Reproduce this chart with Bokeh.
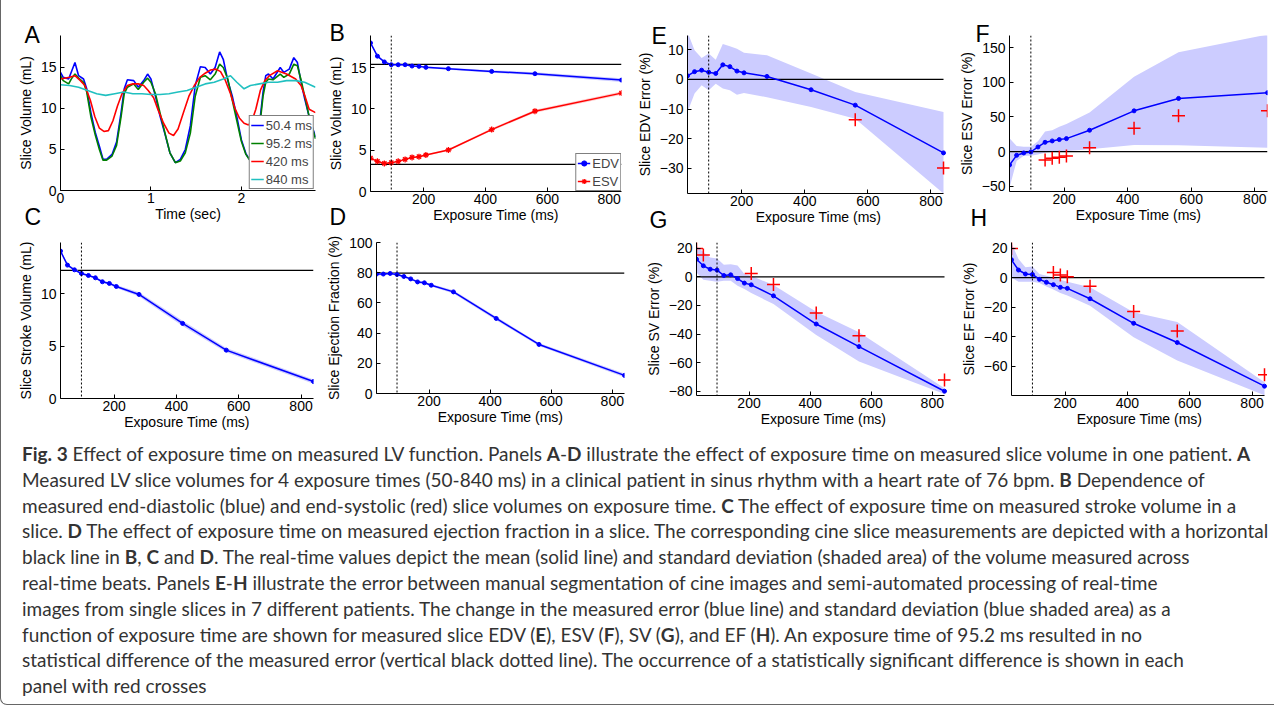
from bokeh.plotting import figure
from bokeh.models import (Span, Legend, LegendItem, FixedTicker, Range1d, Div, Title,
                          CustomJSTickFormatter)
from bokeh.layouts import column, row
from bokeh.embed import file_html
from bokeh.resources import INLINE

FONT = "Liberation Sans"
BLUE = "#0000ff"
RED = "#ff0000"
GREEN = "#008000"
CYAN = "#20c0c0"
BAND = "#ccccff"
RBAND = "#ffcccc"

# ------------------------------------------------------------------ data
exposure_ms = [28, 50.4, 72.8, 95.2, 117.6, 140, 162.4, 184.8, 207.2, 280, 420, 560, 840]
no_diff_exposure = 95.2

# Panel A : slice volume vs time for 4 exposure times
a_t_504 = [0, 0.03, 0.09, 0.125, 0.16, 0.2, 0.255, 0.29, 0.336, 0.384, 0.43, 0.47, 0.51, 0.57,
           0.62, 0.67, 0.705, 0.74, 0.81, 0.86, 0.92, 0.963, 1.0, 1.05, 1.1, 1.16, 1.21, 1.27,
           1.325, 1.38, 1.436, 1.49, 1.547, 1.6, 1.657, 1.71, 1.76, 1.8, 1.85, 1.9, 1.95, 2.0,
           2.05, 2.1, 2.15, 2.2, 2.24, 2.27, 2.3, 2.35, 2.43, 2.47, 2.53, 2.58, 2.62, 2.66, 2.7,
           2.75, 2.82]
a_v_504 = [14.4, 13.8, 13.6, 14.6, 15.6, 14.0, 13.6, 12.4, 9.5, 7.1, 5.4, 3.8, 3.8, 4.4,
           5.9, 9.5, 12.4, 13.5, 13.4, 12.6, 13.4, 14.2, 13.6, 11.5, 9.1, 6.7, 4.6, 3.4,
           3.8, 5.0, 7.9, 12.8, 15.1, 15.0, 14.2, 15.0, 16.9, 16.0, 13.4, 11.5, 9.0, 6.2,
           4.5, 3.6, 4.2, 8.0, 12.0, 14.0, 14.2, 13.6, 15.0, 14.4, 14.8, 16.2, 15.6, 13.2, 11.2,
           9.0, 6.5]
a_t_952 = a_t_504
a_v_952 = [14.0, 13.4, 13.0, 13.7, 14.2, 13.7, 13.2, 12.0, 9.0, 6.8, 5.0, 3.7, 3.7, 4.2,
           5.5, 9.0, 11.8, 12.6, 13.0, 12.3, 13.2, 13.7, 13.2, 11.8, 9.5, 6.8, 4.6, 3.4,
           3.6, 4.6, 7.0, 11.5, 13.8, 14.0, 13.5, 14.2, 15.4, 15.0, 13.6, 11.0, 8.5, 6.0,
           4.4, 3.6, 4.0, 7.5, 11.5, 13.2, 13.6, 13.5, 14.2, 13.8, 14.2, 15.4, 15.2, 13.5, 11.5,
           9.0, 6.3]
a_t_420 = [0, 0.1, 0.16, 0.22, 0.27, 0.33, 0.38, 0.43, 0.48, 0.53, 0.58, 0.63, 0.68, 0.74,
           0.8, 0.86, 0.92, 0.97, 1.03, 1.08, 1.14, 1.2, 1.25, 1.3, 1.36, 1.42, 1.48, 1.54,
           1.6, 1.66, 1.72, 1.77, 1.82, 1.88, 1.93, 1.98, 2.03, 2.08, 2.12, 2.16, 2.21, 2.26,
           2.31, 2.4, 2.5, 2.6, 2.66, 2.7, 2.75, 2.82]
a_v_420 = [13.6, 13.8, 14.0, 13.4, 12.8, 11.0, 9.0, 7.6, 7.2, 7.3, 8.5, 10.3, 11.8, 12.8,
           13.0, 13.0, 12.8, 12.2, 11.3, 9.8, 8.2, 7.0, 6.7, 7.5, 9.5, 11.5, 12.8, 13.8,
           14.3, 14.7, 14.8, 14.5, 13.5, 11.8, 10.0, 8.8, 8.2, 8.0, 8.6, 9.9, 12.2, 13.4,
           14.0, 14.6, 14.2, 13.6, 12.8, 11.6, 9.9, 9.5]
a_t_840 = [0, 0.1, 0.2, 0.3, 0.4, 0.5, 0.6, 0.7, 0.8, 0.9, 1.0, 1.1, 1.2, 1.3, 1.4, 1.5, 1.6,
           1.7, 1.8, 1.88, 1.95, 2.03, 2.1, 2.2, 2.3, 2.4, 2.5, 2.6, 2.7, 2.82]
a_v_840 = [12.9, 12.8, 12.6, 12.2, 11.8, 11.6, 11.8, 12.0, 11.8, 11.8, 11.7, 11.7, 11.8, 12.0,
           12.2, 12.6, 13.0, 13.2, 13.6, 14.0, 13.2, 12.4, 12.8, 13.0, 13.2, 13.2, 13.4, 13.4,
           13.2, 12.6]
a_labels = ["50.4 ms", "95.2 ms", "420 ms", "840 ms"]

# Panel B : EDV / ESV vs exposure time (one patient)
b_edv = [18.0, 16.4, 15.7, 15.36, 15.36, 15.36, 15.2, 15.16, 15.04, 14.88, 14.55, 14.27, 13.5]
b_edv_sd = [0.12, 0.1, 0.08, 0.08, 0.08, 0.08, 0.08, 0.1, 0.1, 0.12, 0.15, 0.18, 0.22]
b_esv = [4.05, 3.65, 3.40, 3.49, 3.65, 3.89, 4.13, 4.22, 4.42, 5.03, 7.50, 9.73, 11.92]
b_esv_sd = [0.1, 0.08, 0.08, 0.08, 0.08, 0.08, 0.08, 0.1, 0.1, 0.12, 0.15, 0.18, 0.2]
b_cine_edv = 15.4
b_cine_esv = 3.28

# Panel C : stroke volume
c_sv = [14.08, 12.74, 12.29, 11.94, 11.75, 11.53, 11.15, 10.99, 10.70, 9.94, 7.17, 4.62, 1.62]
c_sv_sd = [0.15, 0.12, 0.1, 0.1, 0.1, 0.1, 0.12, 0.12, 0.15, 0.2, 0.25, 0.2, 0.2]
c_cine = 12.23

# Panel D : ejection fraction
d_ef = [79.1, 79.1, 79.5, 78.8, 77.5, 75.9, 73.9, 73.3, 71.7, 67.3, 49.7, 32.5, 12.0]
d_ef_sd = [1.0, 0.8, 0.7, 0.7, 0.7, 0.7, 0.8, 0.8, 0.8, 1.0, 1.2, 1.0, 1.2]
d_cine = 79.7

# Panels E-H : errors (mean, shaded band, significant points)
e_mean = [1.2, 2.6, 3.1, 2.4, 2.0, 4.9, 4.3, 2.8, 2.2, 1.0, -3.5, -8.7, -24.8]
e_hi = [16.0, 9.8, 7.2, 8.7, 6.6, 11.9, 11.2, 10.3, 9.0, 8.1, 2.0, -4.3, -11.0]
e_lo = [-11.0, -4.8, -2.0, -3.7, -1.5, -3.1, -3.7, -5.2, -4.6, -6.0, -9.3, -13.3, -38.5]
e_sig_t = [560, 840]
e_sig_v = [-13.6, -29.9]

f_mean = [-19.3, -5.3, -1.9, -0.5, 6.8, 13.5, 15.5, 17.4, 18.8, 30.9, 58.9, 76.8, 85.0]
f_hi = [19.3, 8.0, 7.0, 7.0, 15.0, 29.0, 31.0, 36.0, 40.0, 56.5, 108.0, 143.5, 169.0]
f_lo = [-52.0, -13.5, -6.0, -6.0, -4.0, -1.5, 0.0, 1.0, 1.0, 3.4, 9.7, 9.2, 5.8]
f_sig_t = [140, 162.4, 184.8, 207.2, 280, 420, 560, 840]
f_sig_v = [-12.0, -9.7, -8.2, -6.3, 5.8, 33.8, 51.7, 58.9]

g_mean = [12.3, 7.7, 5.3, 4.7, 0.9, 1.4, -1.2, -4.4, -5.6, -13.3, -33.0, -48.8, -80.0]
g_hi = [21.6, 17.4, 13.5, 12.8, 8.5, 8.8, 8.0, 1.9, 0.7, -5.8, -24.4, -38.8, -77.9]
g_lo = [3.0, -2.1, -2.8, -3.5, -2.8, -2.8, -6.3, -8.6, -11.4, -19.0, -40.7, -59.3, -82.0]
g_sig_t = [28, 50.4, 207.2, 280, 420, 560, 840]
g_sig_v = [19.8, 15.3, 2.3, -5.3, -25.3, -41.2, -72.1]

h_mean = [12.1, 5.2, 2.5, 2.2, -1.1, -3.1, -4.7, -6.5, -7.2, -14.2, -30.8, -43.8, -73.3]
h_hi = [23.4, 12.6, 7.0, 7.6, 2.5, 1.3, 0.2, -1.3, -2.7, -6.5, -23.4, -30.0, -70.6]
h_lo = [0.2, -2.7, -2.7, -2.7, -3.5, -6.0, -8.0, -10.3, -12.1, -18.9, -40.2, -56.0, -79.5]
h_sig_t = [28, 162.4, 184.8, 207.2, 280, 420, 560, 840]
h_sig_v = [19.8, 3.6, 1.8, 0.7, -5.8, -22.9, -36.0, -65.6]

exp_ticks = [200, 400, 600, 800]

caption_lines = [
    "<b>Fig. 3</b> Effect of exposure time on measured LV function. Panels <b>A</b>-<b>D</b> illustrate the effect of exposure time on measured slice volume in one patient. <b>A</b>",
    "Measured LV slice volumes for 4 exposure times (50-840 ms) in a clinical patient in sinus rhythm with a heart rate of 76 bpm. <b>B</b> Dependence of",
    "measured end-diastolic (blue) and end-systolic (red) slice volumes on exposure time. <b>C</b> The effect of exposure time on measured stroke volume in a",
    "slice. <b>D</b> The effect of exposure time on measured ejection fraction in a slice. The corresponding cine slice measurements are depicted with a horizontal",
    "black line in <b>B</b>, <b>C</b> and <b>D</b>. The real-time values depict the mean (solid line) and standard deviation (shaded area) of the volume measured across",
    "real-time beats. Panels <b>E</b>-<b>H</b> illustrate the error between manual segmentation of cine images and semi-automated processing of real-time",
    "images from single slices in 7 different patients. The change in the measured error (blue line) and standard deviation (blue shaded area) as a",
    "function of exposure time are shown for measured slice EDV (<b>E</b>), ESV (<b>F</b>), SV (<b>G</b>), and EF (<b>H</b>). An exposure time of 95.2 ms resulted in no",
    "statistical difference of the measured error (vertical black dotted line). The occurrence of a statistically significant difference is shown in each",
    "panel with red crosses",
]

# ------------------------------------------------------------------ helpers
MINUS_FMT = "return (tick < 0 ? '\\u2212' : '') + Math.abs(tick);"
AXIS_H = 39        # approx. height of an x axis (tick labels + axis label)
LETTER_DESC = 4.9  # text box bottom below the baseline (23px letters)
LETTER_ASC = 20.8  # baseline below the text box top


def style_axis(ax, ticks, label, is_x):
    ax.ticker = FixedTicker(ticks=ticks)
    ax.formatter = CustomJSTickFormatter(code=MINUS_FMT)
    ax.axis_label = label
    ax.axis_line_color = "black"
    ax.axis_line_width = 1
    ax.major_tick_line_color = "black"
    ax.major_tick_in = 4
    ax.major_tick_out = 0
    ax.minor_tick_line_color = None
    ax.major_label_text_font = FONT
    ax.major_label_text_font_size = "14px"
    ax.major_label_text_color = "black"
    ax.axis_label_text_font = FONT
    ax.axis_label_text_font_size = "14px"
    ax.axis_label_text_font_style = "normal"
    ax.axis_label_text_color = "black"
    if is_x:
        ax.major_label_standoff = 2
        ax.axis_label_standoff = 0
    else:
        ax.major_label_standoff = 4
        ax.axis_label_standoff = 4


def letter_title(text, offset, standoff, valign):
    return Title(text=text, align="left", offset=offset, vertical_align=valign,
                 standoff=int(round(standoff)), text_font=FONT, text_font_size="23px",
                 text_font_style="normal", text_color="black")


def make_panel(xr, yr, fw, fh, bl, br, bt, bb, xticks, yticks, xlabel, ylabel,
               top_letter=None, below_letter=None):
    p = figure(x_range=Range1d(*xr), y_range=Range1d(*yr), frame_width=fw, frame_height=fh,
               min_border_left=bl, min_border_right=br, min_border_top=bt,
               min_border_bottom=bb, output_backend="svg", toolbar_location=None,
               title=None)
    p.xgrid.visible = False
    p.ygrid.visible = False
    p.outline_line_color = None
    p.background_fill_color = "white"
    p.border_fill_color = "white"
    style_axis(p.xaxis[0], xticks, xlabel, True)
    style_axis(p.yaxis[0], yticks, ylabel, False)
    if top_letter is not None:
        txt, dx, drop = top_letter          # drop: baseline below the frame top
        p.add_layout(letter_title(txt, dx, -2 * (drop + LETTER_DESC), "bottom"), "above")
    if below_letter is not None:
        txt, dx, bdrop = below_letter       # bdrop: baseline below the frame bottom
        s = 2 * (bdrop - LETTER_ASC - AXIS_H)
        p.add_layout(letter_title(txt, dx, s, "top"), "below")
    return p


def dotted(p):
    p.add_layout(Span(location=no_diff_exposure, dimension="height", line_color="black",
                      line_width=1, line_dash="2 2"))


def hline(p, val):
    p.line(x=[exposure_ms[0], exposure_ms[-1]], y=[val, val], line_color="black",
           line_width=1.2)


def ext(px, fw):
    return px * (exposure_ms[-1] - exposure_ms[0]) / fw


def mean_sd_series(p, y, sd, color, fill, marker, msize):
    p.varea(x=exposure_ms, y1=[a - b for a, b in zip(y, sd)],
            y2=[a + b for a, b in zip(y, sd)], fill_color=fill, fill_alpha=1)
    r1 = p.line(exposure_ms, y, line_color=color, line_width=1.5)
    if marker == "circle":
        r2 = p.scatter(exposure_ms, y, marker="circle", size=msize, color=color)
    else:
        r2 = p.scatter(exposure_ms, y, marker=marker, size=msize, line_color=color,
                       fill_color=color, line_width=1.3)
    return [r1, r2]


def error_panel(p, mean, lo, hi, sig_t, sig_v):
    p.varea(x=exposure_ms, y1=lo, y2=hi, fill_color=BAND, fill_alpha=1)
    hline(p, 0)
    p.line(exposure_ms, mean, line_color=BLUE, line_width=1.5)
    p.scatter(exposure_ms, mean, marker="circle", size=4, color=BLUE)
    p.scatter(sig_t, sig_v, marker="cross", size=13, line_color=RED, line_width=1.5)
    dotted(p)
    p.xaxis[0].bounds = (exposure_ms[0], exposure_ms[-1])


def make_legend(items, margin):
    return Legend(items=items, location="bottom_right", margin=margin, padding=1, spacing=2,
                  label_height=16, glyph_height=16, glyph_width=13, label_standoff=2,
                  label_text_font=FONT, label_text_font_size="13px",
                  border_line_color="black", border_line_width=1,
                  background_fill_color="white", background_fill_alpha=1)


xr_exp = (exposure_ms[0], exposure_ms[-1])
XL = "Exposure Time (ms)"

# ------------------------------------------------------------------ row 1 (A, B, E, F)
# (the letters of the second row live in the bottom margin of the first row)
pA = make_panel((0, 2.82), (0, 18.9), 255, 155, 59, 8, 35, 45, [0, 1, 2], [0, 5, 10, 15],
                "Time (sec)", "Slice Volume (mL)",
                top_letter=("A", -36, 7), below_letter=("C", -36, 39))
ra = []
for t, v, c in ((a_t_504, a_v_504, BLUE), (a_t_952, a_v_952, GREEN),
                (a_t_420, a_v_420, RED), (a_t_840, a_v_840, CYAN)):
    ra.append(pA.line(t, v, line_color=c, line_width=1.6))
pA.add_layout(make_legend([LegendItem(label=l, renderers=[r]) for l, r in zip(a_labels, ra)], 1))

pB = make_panel(xr_exp, (0, 18.9), 251, 156, 47, 12, 35, 44, exp_ticks, [0, 5, 10, 15],
                XL, "Slice Volume (mL)",
                top_letter=("B", -41, 5), below_letter=("D", -41, 38))
hline(pB, b_cine_edv)
hline(pB, b_cine_esv)
rb1 = mean_sd_series(pB, b_edv, b_edv_sd, BLUE, BAND, "circle", 4)
rb2 = mean_sd_series(pB, b_esv, b_esv_sd, RED, RBAND, "asterisk", 6)
dotted(pB)
pB.add_layout(make_legend([LegendItem(label="EDV", renderers=rb1),
                           LegendItem(label="ESV", renderers=rb2)], 0))

fwE = 256
pE = make_panel((exposure_ms[0], exposure_ms[-1] + ext(6, fwE)), (-38.5, 14.8), fwE + 6, 158,
                52, 6, 32, 45, exp_ticks, [-30, -20, -10, 0, 10], XL, "Slice EDV Error (%)",
                top_letter=("E", -36, 8), below_letter=("G", -38, 39))
error_panel(pE, e_mean, e_lo, e_hi, e_sig_t, e_sig_v)

pF = make_panel(xr_exp, (-57.5, 167.6), 258, 156, 52, 1, 34, 45, exp_ticks,
                [-50, 0, 50, 100, 150], XL, "Slice ESV Error (%)",
                top_letter=("F", -34, 6), below_letter=("H", -39, 39))
error_panel(pF, f_mean, f_lo, f_hi, f_sig_t, f_sig_v)

# ------------------------------------------------------------------ row 2 (C, D, G, H)
pC = make_panel(xr_exp, (0, 14.9), 253, 156, 59, 10, 2, 37, exp_ticks, [0, 5, 10],
                XL, "Slice Stroke Volume (mL)")
hline(pC, c_cine)
mean_sd_series(pC, c_sv, c_sv_sd, BLUE, BAND, "circle", 4)
dotted(pC)

pD = make_panel(xr_exp, (0, 100), 248, 151, 50, 12, 7, 37, exp_ticks,
                [0, 20, 40, 60, 80, 100], XL, "Slice Ejection Fraction (%)")
hline(pD, d_cine)
mean_sd_series(pD, d_ef, d_ef_sd, BLUE, BAND, "circle", 4)
dotted(pD)

fwG = 248
pG = make_panel((exposure_ms[0], exposure_ms[-1] + ext(6, fwG)), (-83, 24), fwG + 6, 153,
                60, 6, 4, 38, exp_ticks, [-80, -60, -40, -20, 0, 20], XL,
                "Slice SV Error (%)")
error_panel(pG, g_mean, g_lo, g_hi, g_sig_t, g_sig_v)

fwH = 253
pH = make_panel((exposure_ms[0], exposure_ms[-1] + ext(3, fwH)), (-79.6, 23.8), fwH + 3, 153,
                55, 0, 4, 38, exp_ticks, [-60, -40, -20, 0, 20], XL,
                "Slice EF Error (%)")
error_panel(pH, h_mean, h_lo, h_hi, h_sig_t, h_sig_v)

# ------------------------------------------------------------------ caption
cap_html = ('<div style="font-family: Lato, \'Open Sans\', sans-serif; font-size: 19px; '
            'line-height: 25.8px; color: #333333; padding-left: 16px; padding-top: 6px; '
            'white-space: nowrap;">' + "<br>".join(caption_lines) + "</div>")
caption = Div(text=cap_html, width=1263, height=264)

layout = column(
    row(pA, pB, pE, pF, spacing=0),
    row(pC, pD, pG, pH, spacing=0),
    caption,
    spacing=0,
    styles={"border-left": "1px solid #666666", "border-bottom": "1px solid #666666",
            "border-bottom-left-radius": "7px"},
)

open("out.html", "w", encoding="utf-8").write(file_html(layout, INLINE))
